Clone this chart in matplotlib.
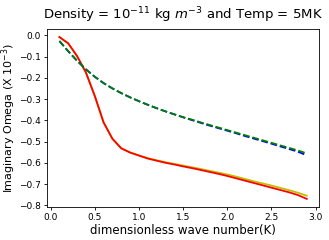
import matplotlib
matplotlib.use("Agg")
import matplotlib.pyplot as plt
import numpy as np

# wave number K
k = [0.1, 0.2, 0.3, 0.4, 0.5, 0.6, 0.7, 0.8, 0.9, 1.0,
     1.1, 1.2, 1.3, 1.4, 1.5, 1.6, 1.7, 1.8, 1.9, 2.0,
     2.1, 2.2, 2.3, 2.4, 2.5, 2.6, 2.7, 2.8, 2.9]

# imaginary omega (x 1e-3)
red = [-0.008, -0.038, -0.098, -0.175, -0.285, -0.410, -0.487, -0.532, -0.552, -0.566,
       -0.580, -0.590, -0.600, -0.608, -0.617, -0.625, -0.634, -0.643, -0.652, -0.662,
       -0.673, -0.684, -0.695, -0.706, -0.717, -0.728, -0.739, -0.752, -0.770]
yellow = [-0.008, -0.038, -0.098, -0.175, -0.285, -0.410, -0.487, -0.531, -0.551, -0.565,
          -0.578, -0.588, -0.597, -0.605, -0.613, -0.621, -0.629, -0.638, -0.646, -0.655,
          -0.665, -0.676, -0.687, -0.697, -0.707, -0.718, -0.729, -0.741, -0.755]
green = [-0.027, -0.075, -0.120, -0.160, -0.195, -0.225, -0.250, -0.272, -0.292, -0.310,
         -0.327, -0.343, -0.358, -0.372, -0.385, -0.397, -0.410, -0.422, -0.434, -0.446,
         -0.458, -0.470, -0.482, -0.494, -0.506, -0.518, -0.530, -0.542, -0.556]
blue = [-0.027, -0.075, -0.120, -0.160, -0.195, -0.225, -0.250, -0.272, -0.292, -0.310,
        -0.327, -0.343, -0.358, -0.372, -0.386, -0.399, -0.412, -0.425, -0.437, -0.449,
        -0.461, -0.474, -0.486, -0.498, -0.510, -0.523, -0.535, -0.548, -0.565]

fig = plt.figure(figsize=(3.29, 2.40), dpi=100)
ax = fig.add_axes([0.143, 0.1375, 0.827, 0.742])

ax.plot(k, yellow, color='y', lw=1.3)
ax.plot(k, red, color='r', lw=1.3)
ax.plot(k, blue, 'b--', lw=1.3)
ax.plot(k, green, 'g--', lw=1.3)

ax.set_xticks(np.arange(0, 3.01, 0.5))
ax.set_yticks(np.arange(-0.8, 0.01, 0.1))
ax.tick_params(labelsize=6.5, length=2.5, width=0.6, pad=2)
for s in ax.spines.values():
    s.set_linewidth(0.6)

ax.set_title("Density = $10^{-11}$ kg $m^{-3}$ and Temp = 5MK", fontsize=9.5, pad=7)
ax.set_xlabel("dimensionless wave number(K)", fontsize=8.5, labelpad=1)
ax.set_ylabel("Imaginary Omega (X $10^{-3}$)", fontsize=8, labelpad=1)

plt.savefig("out.png", dpi=100)
